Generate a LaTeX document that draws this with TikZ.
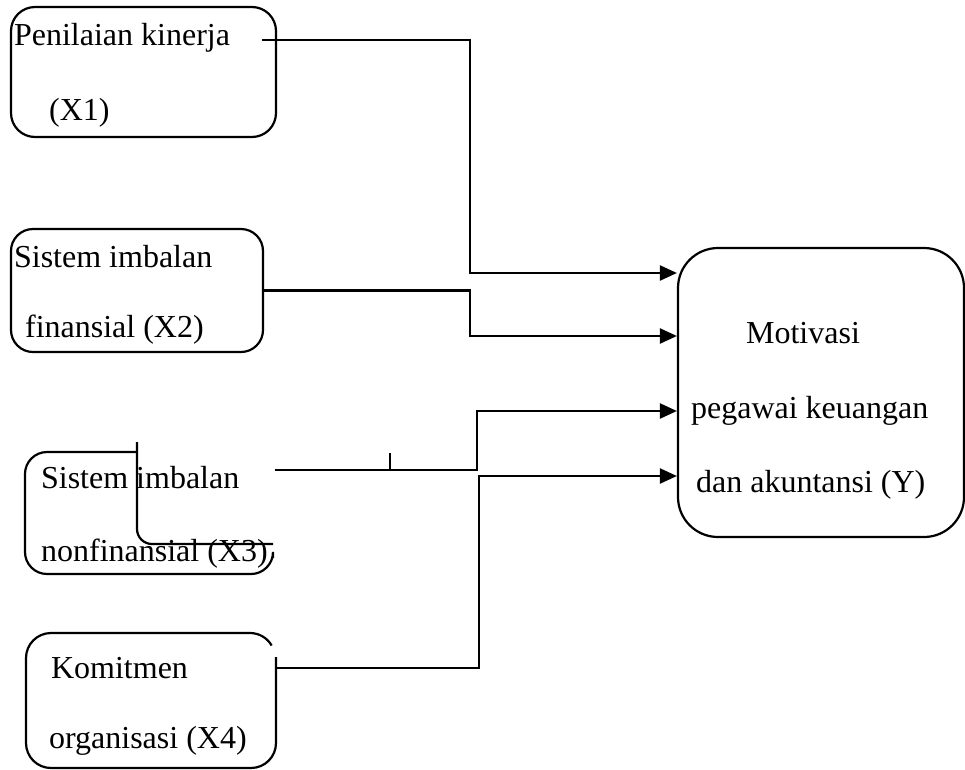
\documentclass[tikz,border=0pt]{standalone}
\usepackage{fontspec}
\setmainfont{Liberation Serif}
\usetikzlibrary{arrows.meta}
\begin{document}
\begin{tikzpicture}[x=1pt,y=-1pt, line width=2.2pt,
  box/.style={draw, inner sep=0pt},
  lbl/.style={anchor=base west, inner sep=0pt, font=\fontsize{32}{38}\selectfont},
  arr/.style={-{Triangle[length=17pt,width=15pt]}}]
\useasboundingbox (0,0) rectangle (965,769);
% boxes
\node[box, rounded corners=24pt, minimum width=265pt, minimum height=130pt] (X1) at (143.5,72) {};
\node[box, rounded corners=22pt, minimum width=252pt, minimum height=123pt] (X2) at (137,290.5) {};
\node[box, rounded corners=40pt, minimum width=286pt, minimum height=289pt] (Y) at (821,392.5) {};
% X3 broken outline
\coordinate (x3a) at (137,452);
\coordinate (x3b) at (25,452);
\coordinate (x3c) at (25,574);
\coordinate (x3d) at (273,574);
\coordinate (x3e) at (273,558);
\draw[rounded corners=22pt] (x3a) -- (x3b) -- (x3c) -- (x3d) -- (x3e);
\coordinate (x3f) at (137,442);
\coordinate (x3g) at (137,544);
\coordinate (x3h) at (273,544);
\draw[rounded corners=15pt] (x3f) -- (x3g) -- (x3h);
% X4 broken outline
\coordinate (x4a) at (276,657);
\coordinate (x4b) at (276,768);
\coordinate (x4c) at (26,768);
\coordinate (x4d) at (26,633);
\coordinate (x4e) at (250,633);
\draw[rounded corners=25pt] (x4a) -- (x4b) -- (x4c) -- (x4d) -- (x4e);
\draw (x4e) arc[start angle=90, end angle=30, radius=25pt];
% labels
\node[lbl] (l1a) at (13,45) {Penilaian kinerja};
\node[lbl] (l1b) at (48,120) {(X1)};
\node[lbl] (l2a) at (13,267) {Sistem imbalan};
\node[lbl] (l2b) at (24,337) {finansial (X2)};
\node[lbl] (l3a) at (40,488) {Sistem imbalan};
\node[lbl] (l3b) at (40,561) {nonfinansial (X3)};
\node[lbl] (l4a) at (50,678) {Komitmen};
\node[lbl] (l4b) at (48,748) {organisasi (X4)};
\node[lbl] (lya) at (745,343) {Motivasi};
\node[lbl] (lyb) at (690,418) {pegawai keuangan};
\node[lbl] (lyc) at (695,492) {dan akuntansi (Y)};
% connectors
\coordinate (s1) at (262,40);
\coordinate (k1) at (470,273);
\coordinate (t1) at (Y.west |- k1);
\draw[arr] (s1) -| (k1) -- (t1);
\coordinate (k2) at (470,336);
\coordinate (t2) at (Y.west |- k2);
\draw[arr] (X2.east) -| (k2) -- (t2);
\coordinate (s3) at (275,470);
\coordinate (k3) at (477,411);
\coordinate (t3) at (Y.west |- k3);
\draw[arr] (s3) -| (k3) -- (t3);
\coordinate (m3a) at (390,453);
\coordinate (m3b) at (390,470);
\draw (m3a) -- (m3b);
\coordinate (s4) at (276,668);
\coordinate (k4) at (479,476);
\coordinate (t4) at (Y.west |- k4);
\draw[arr] (s4) -| (k4) -- (t4);
\end{tikzpicture}
\end{document}
